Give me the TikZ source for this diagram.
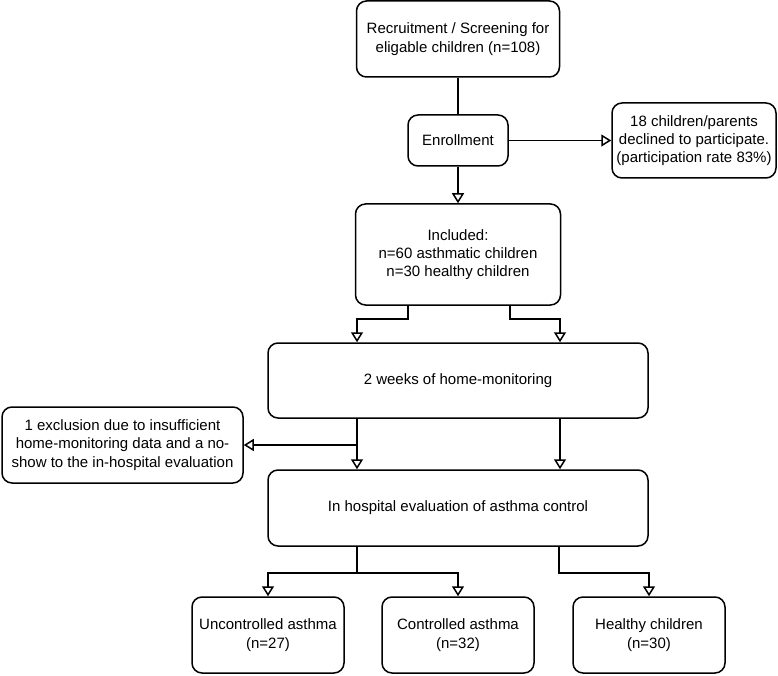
\documentclass[tikz,border=0pt]{standalone}
\usepackage{fontspec}
\setmainfont{Liberation Sans}
\usetikzlibrary{arrows.meta}
\begin{document}
\begin{tikzpicture}[x=1pt,y=-1pt,
  box/.style={draw, line width=1.5pt, rounded corners=10pt, align=center,
    font=\fontsize{15}{18.3}\selectfont, inner sep=0pt},
  ln/.style={line width=1.5pt},
  arr/.style={line width=1.5pt, -{Triangle[open,length=10pt,width=12pt,fill=white]}}]
\useasboundingbox (0,0) rectangle (778,676);
\node[box, minimum width=203pt, minimum height=76pt] (rec) at (458,39) {Recruitment / Screening for\\eligable children (n=108)};
\node[box, minimum width=100pt, minimum height=51pt] (enr) at (458,140.5) {Enrollment};
\node[box, minimum width=164pt, minimum height=75pt] (dec) at (694,140.5) {18 children/parents\\declined to participate.\\(participation rate 83\%)};
\node[box, minimum width=205pt, minimum height=101pt] (inc) at (458,254.5) {Included:\\n=60 asthmatic children\\n=30 healthy children};
\node[box, minimum width=380pt, minimum height=75pt] (home) at (458,380.5) {2 weeks of home-monitoring};
\node[box, minimum width=241pt, minimum height=76pt] (exc) at (122.5,445) {1 exclusion due to insufficient\\home-monitoring data and a no-\\show to the in-hospital evaluation};
\node[box, minimum width=380pt, minimum height=76pt] (hosp) at (458,508) {In hospital evaluation of asthma control};
\node[box, minimum width=152pt, minimum height=76pt] (unc) at (268,635) {Uncontrolled asthma\\(n=27)};
\node[box, minimum width=152pt, minimum height=76pt] (con) at (458,635) {Controlled asthma\\(n=32)};
\node[box, minimum width=152pt, minimum height=76pt] (hea) at (649,635) {Healthy children\\(n=30)};
% connectors
\draw[ln] (rec.south) -- (enr.north);
\draw[arr] (enr.east) -- (dec.west);
\draw[arr] (enr.south) -- (inc.north);
\draw[arr] ([xshift=-50pt]inc.south) -- ++(0,13) -| ([xshift=-101pt]home.north);
\draw[arr] ([xshift=52pt]inc.south) -- ++(0,13) -| ([xshift=102pt]home.north);
\draw[arr] ([xshift=-101pt]home.south) -- ([xshift=-101pt]hosp.north);
\coordinate (br) at ([xshift=-101pt]home.south |- exc.east);
\draw[arr] (br) -- (exc.east);
\draw[arr] ([xshift=102pt]home.south) -- ([xshift=102pt]hosp.north);
\coordinate (sp) at ([xshift=-101pt,yshift=-26pt]hosp.south);
\draw[ln] ([xshift=-101pt]hosp.south) -- (sp);
\draw[arr] (sp) -| (unc.north);
\draw[arr] (sp) -| (con.north);
\draw[arr] ([xshift=101pt]hosp.south) -- ++(0,26) -| (hea.north);
\end{tikzpicture}
\end{document}
